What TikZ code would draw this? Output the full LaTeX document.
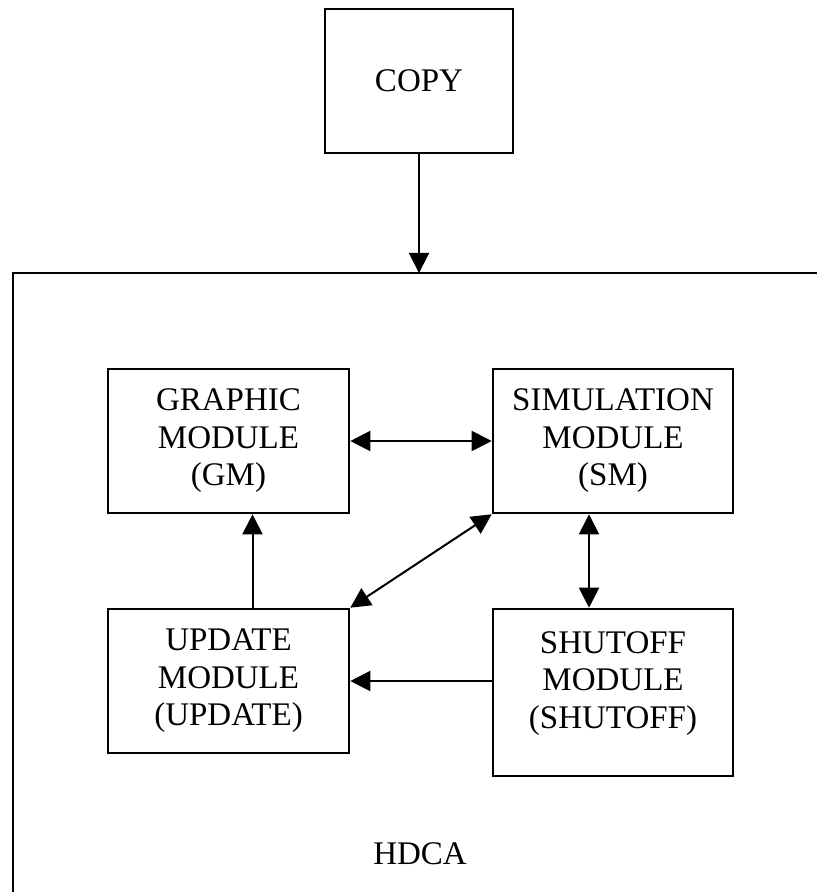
\documentclass[tikz,border=0pt]{standalone}
\usepackage{fontspec}
\setmainfont{Liberation Serif}
\usepackage{tikz}
\usetikzlibrary{arrows.meta, positioning}

\begin{document}
\begin{tikzpicture}[x=0.5pt, y=-0.5pt, >={Triangle[length=10pt, width=10pt]}, every node/.style={font=\fontsize{16.5}{18.75}\selectfont}, align=center]
  \useasboundingbox (0,0) rectangle (817,892);

  \node (copy) [draw, rectangle, line width=1.3pt, minimum width=94pt, minimum height=72pt] at (419,81) {COPY};

  % HDCA frame, open to the right and below
  \coordinate (ftl) at (13,273);
  \draw [line width=1.2pt] (817,273) -- (ftl) -- (13,892);
  \node (hdca) at (420,854) {HDCA};

  \node (gm) [draw, rectangle, line width=1.3pt, minimum width=120.5pt, minimum height=72pt] at (228.5,441)
    {GRAPHIC\\MODULE\\(GM)};
  \node (sm) [draw, rectangle, line width=1.3pt, minimum width=120pt, minimum height=72pt] at (613,441)
    {SIMULATION\\MODULE\\(SM)};
  \node (upd) [draw, rectangle, line width=1.3pt, minimum width=120.5pt, minimum height=72pt] at (228.5,681)
    {UPDATE\\MODULE\\(UPDATE)};
  \node (sd) [draw, rectangle, line width=1.3pt, minimum width=120pt, minimum height=83.5pt] at (613,692.5)
    {SHUTOFF\\MODULE\\(SHUTOFF)\\[-6pt]\mbox{}};

  \draw [->, line width=1pt] (copy.south) -- (copy.south |- ftl);
  \draw [<->, line width=1pt] (gm) -- (sm);
  \draw [<->, line width=1pt] ([xshift=-12pt]sm.south) -- ([xshift=-12pt]sd.north);
  \draw [<->, line width=1pt] (sm.south west) -- (upd.north east);
  \draw [->, line width=1pt] ([xshift=12pt]upd.north) -- ([xshift=12pt]gm.south);
  \draw [->, line width=1pt] (sd.west |- upd.east) -- (upd.east);
\end{tikzpicture}
\end{document}
